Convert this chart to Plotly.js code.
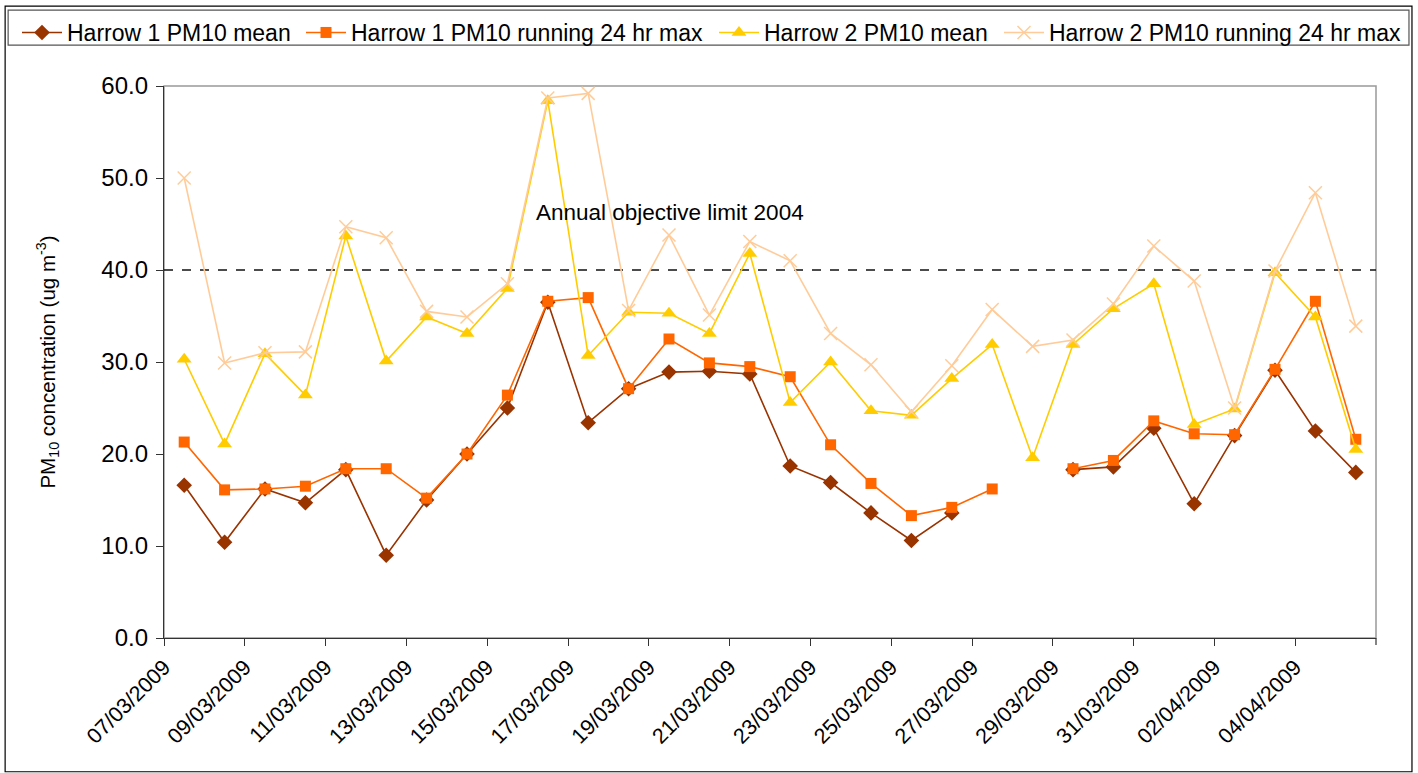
<!DOCTYPE html>
<html>
<head>
<meta charset="utf-8">
<script src="https://cdn.plot.ly/plotly-3.0.1.min.js"></script>
<style>
html,body{margin:0;padding:0;background:#fff;}
#chart{width:1418px;height:773px;}
</style>
</head>
<body>
<div id="chart"></div>
<script>
// Dates (one per day)
const dates = [
 '2009-03-07','2009-03-08','2009-03-09','2009-03-10','2009-03-11','2009-03-12','2009-03-13','2009-03-14','2009-03-15','2009-03-16',
 '2009-03-17','2009-03-18','2009-03-19','2009-03-20','2009-03-21','2009-03-22','2009-03-23','2009-03-24','2009-03-25','2009-03-26',
 '2009-03-27','2009-03-28','2009-03-29','2009-03-30','2009-03-31','2009-04-01','2009-04-02','2009-04-03','2009-04-04','2009-04-05'
];
const harrow1Mean = [16.6,10.4,16.2,14.7,18.3,9.0,15.0,20.0,25.0,36.5,
                     23.4,27.1,28.9,29.0,28.7,18.7,16.9,13.6,10.6,13.6,
                     null,null,18.3,18.6,22.8,14.6,22.0,29.1,22.5,18.0];
const harrow1Max  = [21.3,16.1,16.2,16.5,18.4,18.4,15.2,20.0,26.4,36.6,
                     37.0,27.1,32.5,29.9,29.5,28.4,21.0,16.8,13.3,14.2,
                     16.2,null,18.4,19.3,23.6,22.2,22.1,29.2,36.6,21.6];
const harrow2Mean = [30.3,21.1,30.9,26.4,43.7,30.1,34.9,33.1,38.0,58.4,
                     30.7,35.4,35.3,33.1,41.8,25.6,30.0,24.7,24.2,28.2,
                     31.9,19.6,31.9,35.8,38.5,23.2,24.9,39.7,34.9,20.5];
const harrow2Max  = [50.0,29.9,31.0,31.1,44.7,43.5,35.5,34.9,38.5,58.7,
                     59.2,35.6,43.8,35.1,43.1,41.0,33.1,29.7,24.6,29.6,
                     35.7,31.7,32.4,36.3,42.6,38.8,25.0,39.9,48.4,33.9];
const seriesNames = ['Harrow 1 PM10 mean','Harrow 1 PM10 running 24 hr max','Harrow 2 PM10 mean','Harrow 2 PM10 running 24 hr max'];
const tickDates = ['2009-03-07','2009-03-09','2009-03-11','2009-03-13','2009-03-15','2009-03-17','2009-03-19','2009-03-21',
                   '2009-03-23','2009-03-25','2009-03-27','2009-03-29','2009-03-31','2009-04-02','2009-04-04'];
const tickLabels = ['07/03/2009','09/03/2009','11/03/2009','13/03/2009','15/03/2009','17/03/2009','19/03/2009','21/03/2009',
                    '23/03/2009','25/03/2009','27/03/2009','29/03/2009','31/03/2009','02/04/2009','04/04/2009'];
const yTickVals = [0,10,20,30,40,50,60];
const yTickLabels = ['0.0','10.0','20.0','30.0','40.0','50.0','60.0'];
const objectiveLimit = 40;
const objectiveLabel = 'Annual objective limit 2004';

const xs = dates.map(d => d + ' 12:00');
const FONT = 'Liberation Sans, Arial, sans-serif';

const traces = [
  {x: xs, y: harrow1Mean, name: seriesNames[0], type:'scatter', mode:'lines+markers', legend:'legend',
   line:{color:'#993300', width:1.6}, marker:{symbol:'diamond', size:12, color:'#993300'}},
  {x: xs, y: harrow1Max, name: seriesNames[1], type:'scatter', mode:'lines+markers', legend:'legend2',
   line:{color:'#FF6600', width:1.6}, marker:{symbol:'square', size:11, color:'#FF6600'}},
  {x: xs, y: harrow2Mean, name: seriesNames[2], type:'scatter', mode:'lines+markers', legend:'legend3',
   line:{color:'#FFCC00', width:1.6}, marker:{symbol:'triangle-up', size:13, color:'#FFCC00'}},
  {x: xs, y: harrow2Max, name: seriesNames[3], type:'scatter', mode:'lines+markers', legend:'legend4',
   line:{color:'#FFCC99', width:1.6}, marker:{symbol:'x-thin-open', size:13, color:'#FFCC99', line:{color:'#FFCC99', width:1.5}}}
];

const L=164, R=1377, T=85, B=638;
const px = v => (v - L)/(R - L);
const py = v => (B - v)/(B - T);

function leg(xpix){
  return {orientation:'h', x:px(xpix), y:py(11), xanchor:'left', yanchor:'top',
          font:{family:FONT, size:23, color:'#000'}, bgcolor:'rgba(0,0,0,0)', borderwidth:0, itemwidth:40};
}

const layout = {
  width:1418, height:773,
  margin:{l:L, r:1418-R, t:T, b:773-B},
  paper_bgcolor:'#fff', plot_bgcolor:'#fff',
  font:{family:FONT, size:22, color:'#000'},
  showlegend:true,
  legend:leg(17), legend2:leg(301), legend3:leg(714), legend4:leg(999),
  xaxis:{type:'date', range:['2009-03-07','2009-04-06'], tickmode:'array', tickvals:tickDates, ticktext:tickLabels,
         tickangle:-45, ticks:'outside', ticklen:7, tickcolor:'#333', showline:true, linecolor:'#333', linewidth:1.2,
         showgrid:false, zeroline:false, tickfont:{family:FONT, size:21.5, color:'#000'}},
  yaxis:{range:[0,60], tickmode:'array', tickvals:yTickVals, ticktext:yTickLabels,
         ticks:'outside', ticklen:7, tickcolor:'#333', showline:true, linecolor:'#333', linewidth:1.2,
         showgrid:false, zeroline:false, tickfont:{family:FONT, size:24, color:'#000'}, ticklabelstandoff:3,
         title:{text:'PM<sub>10</sub> concentration (ug m<sup>-3</sup>)', font:{family:FONT, size:20.5, color:'#000'}, standoff:40}},
  shapes:[
    {type:'rect', xref:'paper', yref:'paper', x0:px(5), x1:px(1413), y0:py(772), y1:py(5), line:{color:'#000', width:1.2}, fillcolor:'rgba(0,0,0,0)', layer:'below'},
    {type:'rect', xref:'paper', yref:'paper', x0:px(8), x1:px(1410), y0:py(44), y1:py(9), line:{color:'#555', width:1.2}, fillcolor:'rgba(0,0,0,0)', layer:'below'},
    {type:'rect', xref:'paper', yref:'paper', x0:0, x1:1, y0:0, y1:1, line:{color:'#999', width:1.5}, fillcolor:'rgba(0,0,0,0)', layer:'below'},
    {type:'line', xref:'paper', yref:'paper', x0:1, x1:1, y0:0, y1:-7/(B-T), line:{color:'#333', width:1.2}},
    {type:'line', xref:'paper', yref:'y', x0:0, x1:1, y0:objectiveLimit, y1:objectiveLimit, line:{color:'#111', width:1.4, dash:'dash'}, layer:'below'}
  ],
  annotations:[
    {text:objectiveLabel, xref:'paper', yref:'paper', x:px(534), y:py(212), xanchor:'left', yanchor:'middle', showarrow:false,
     font:{family:FONT, size:22.5, color:'#000'}}
  ]
};

Plotly.newPlot('chart', traces, layout, {displayModeBar:false, staticPlot:true});
</script>
</body>
</html>
